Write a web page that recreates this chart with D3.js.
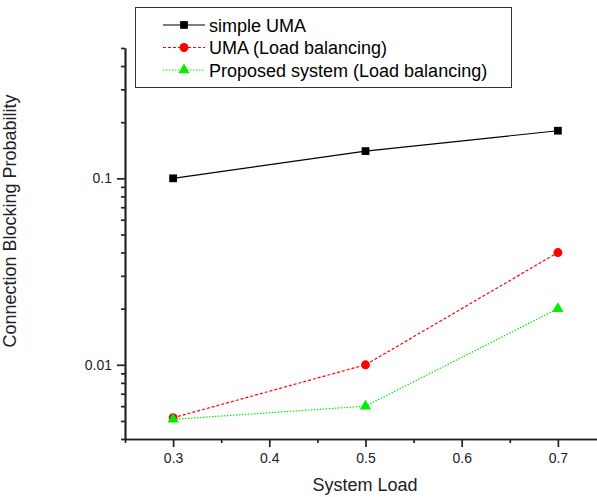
<!DOCTYPE html>
<html lang="en">
<head>
<meta charset="utf-8">
<title>Connection Blocking Probability</title>
<script src="https://d3js.org/d3.v7.min.js"></script>
<style>
  body { margin: 0; background: #fff; }
  svg { font-family: "Liberation Sans", Arial, sans-serif; }
  .axis path, .axis line { stroke: #222; stroke-width: 1.7; fill: none; }
  .axis text { font-size: 14px; fill: #222; }
  .title { font-size: 18px; fill: #222; }
  .legend text { font-size: 18px; fill: #000; }
</style>
</head>
<body>
<script>
  // chart data
  var loads = [0.3, 0.5, 0.7];
  var simpleUMA = [0.1, 0.14, 0.18];
  var umaLB = [0.0052, 0.01, 0.04];
  var proposedLB = [0.0051, 0.006, 0.02];
  var seriesNames = ["simple UMA", "UMA (Load balancing)", "Proposed system (Load balancing)"];
  var xTicks = [0.3, 0.4, 0.5, 0.6, 0.7];
  var xMinor = [0.25, 0.35, 0.45, 0.55, 0.65];
  var yTicks = [0.01, 0.1];
  var yMinor = [0.004, 0.005, 0.006, 0.007, 0.008, 0.009, 0.02, 0.03, 0.04, 0.05, 0.06, 0.07, 0.08, 0.09, 0.2, 0.3, 0.4, 0.5];

  var w = 597, h = 497;

  var svg = d3.select("body").append("svg")
    .attr("width", w)
    .attr("height", h);

  var x = d3.scaleLinear().domain([0.25, 0.75]).range([125, 606]);
  var y = d3.scaleLog().domain([0.004, 0.5]).range([439, 48]);

  // minor ticks first, then the labelled ones
  svg.append("g").attr("class", "axis")
    .attr("transform", "translate(0,439)")
    .call(d3.axisBottom(x).tickValues(xMinor).tickSize(4).tickSizeOuter(0).tickFormat(""));
  svg.append("g").attr("class", "axis")
    .attr("transform", "translate(0,439)")
    .call(d3.axisBottom(x).tickValues(xTicks).tickSize(8).tickSizeOuter(0).tickPadding(6)
      .tickFormat(d3.format(".1f")));

  svg.append("g").attr("class", "axis")
    .attr("transform", "translate(125,0)")
    .call(d3.axisLeft(y).tickValues(yMinor).tickSize(4).tickSizeOuter(0).tickFormat(""));
  svg.append("g").attr("class", "axis")
    .attr("transform", "translate(125,0)")
    .call(d3.axisLeft(y).tickValues(yTicks).tickSize(8).tickSizeOuter(0).tickPadding(5)
      .tickFormat(function(d) { return d; }));

  svg.selectAll(".axis text").attr("stroke", "none");

  // axis titles
  svg.append("text").attr("class", "title")
    .attr("x", 365).attr("y", 491)
    .attr("text-anchor", "middle")
    .text("System Load");

  svg.append("text").attr("class", "title")
    .attr("transform", "translate(16,221) rotate(-90)")
    .attr("text-anchor", "middle")
    .text("Connection Blocking Probability");

  var series = [
    { name: seriesNames[0], values: simpleUMA, color: "#000", dash: null, shape: d3.symbolSquare, size: 60 },
    { name: seriesNames[1], values: umaLB, color: "#ff0000", dash: "3,2", shape: d3.symbolCircle, size: 62 },
    { name: seriesNames[2], values: proposedLB, color: "#00ee00", dash: "1.5,1.5", shape: d3.symbolTriangle, size: 55 }
  ];

  var line = d3.line()
    .x(function(d, i) { return x(loads[i]); })
    .y(function(d) { return y(d); });

  series.forEach(function(s) {
    svg.append("path")
      .datum(s.values)
      .attr("d", line)
      .attr("fill", "none")
      .attr("stroke", s.color)
      .attr("stroke-width", 1.2)
      .attr("stroke-dasharray", s.dash);

    svg.selectAll(null)
      .data(s.values)
      .enter().append("path")
      .attr("d", d3.symbol().type(s.shape).size(s.size))
      .attr("transform", function(d, i) { return "translate(" + x(loads[i]) + "," + y(d) + ")"; })
      .attr("fill", s.color);
  });

  // legend
  var legend = svg.append("g").attr("class", "legend");
  legend.append("rect")
    .attr("x", 135.5).attr("y", 7.5)
    .attr("width", 376).attr("height", 80)
    .attr("fill", "#fff").attr("stroke", "#333").attr("stroke-width", 1);

  series.forEach(function(s, i) {
    var ly = 25 + i * 22.5;
    legend.append("line")
      .attr("x1", 163).attr("x2", 205)
      .attr("y1", ly).attr("y2", ly)
      .attr("stroke", s.color)
      .attr("stroke-width", 1.2)
      .attr("stroke-dasharray", s.dash);
    legend.append("path")
      .attr("d", d3.symbol().type(s.shape).size(s.size))
      .attr("transform", "translate(184," + ly + ")")
      .attr("fill", s.color);
    legend.append("text")
      .attr("x", 209).attr("y", ly + 6.5)
      .text(s.name);
  });
</script>
</body>
</html>
